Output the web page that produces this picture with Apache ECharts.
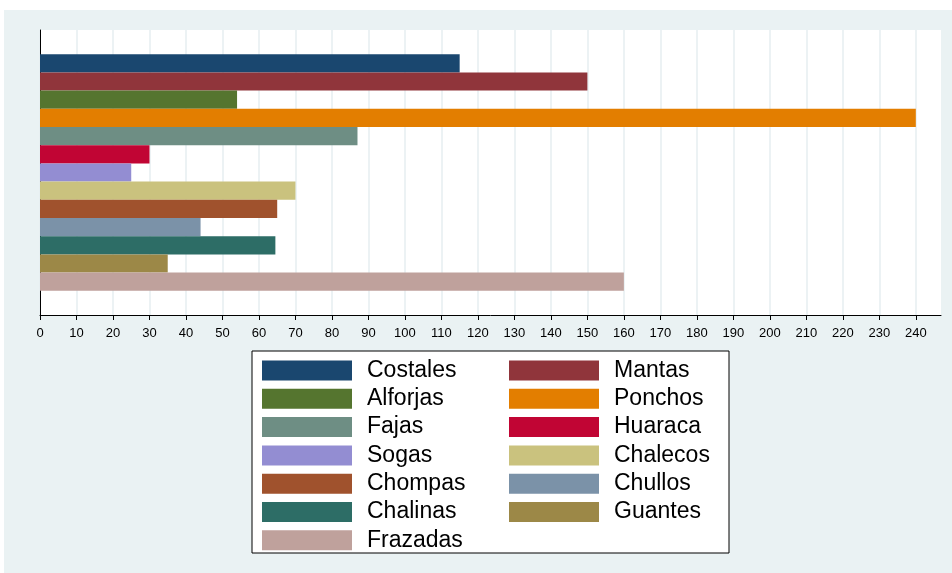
<!DOCTYPE html>
<html>
<head>
<meta charset="utf-8">
<script src="https://cdn.jsdelivr.net/npm/echarts@6/dist/echarts.min.js"></script>
<style>
html,body{margin:0;padding:0;background:#ffffff;}
#chart{width:952px;height:573px;}
</style>
</head>
<body>
<div id="chart"></div>
<script>
const names = ['Costales','Mantas','Alforjas','Ponchos','Fajas','Huaraca','Sogas','Chalecos','Chompas','Chullos','Chalinas','Guantes','Frazadas'];
const values = [115, 150, 54, 240, 87, 30, 25, 70, 65, 44, 64.5, 35, 160];
const colors = ['#1a476f','#90353b','#55752f','#e37e00','#6e8e84','#c10534','#938dd2','#cac27e','#a0522d','#7b92a8','#2d6d66','#9c8847','#bfa19c'];
const xTicks = [0,10,20,30,40,50,60,70,80,90,100,110,120,130,140,150,160,170,180,190,200,210,220,230,240];
const leftColumn = ['Costales','Alforjas','Fajas','Sogas','Chompas','Chalinas','Frazadas'];
const rightColumn = ['Mantas','Ponchos','Huaraca','Chalecos','Chullos','Guantes'];

const chart = echarts.init(document.getElementById('chart'), null, {renderer:'canvas'});
const font = 'Liberation Sans, Arial, sans-serif';

const legendCommon = {
  orient: 'vertical',
  itemWidth: 90,
  itemHeight: 20,
  itemGap: 5.3,
  icon: 'rect',
  selectedMode: false,
  padding: 0,
  textStyle: {fontFamily: font, fontSize: 23, lineHeight: 20, color: '#000', padding: [0,0,0,10]}
};

chart.setOption({
  backgroundColor: '#ffffff',
  animation: false,
  color: colors,
  graphic: [
    {type:'rect', z:-10, shape:{x:4, y:10, width:948, height:563}, style:{fill:'#eaf2f3'}},
    {type:'rect', z:3, shape:{x:252, y:351, width:477, height:202}, style:{fill:'#ffffff', stroke:'#000000', lineWidth:1}}
  ],
  grid: {left:40, top:30, width:901, height:285, show:true, backgroundColor:'#ffffff', borderWidth:0},
  xAxis: {
    type:'value', min:0, max:246.9, interval:10,
    axisLine:{show:true, lineStyle:{color:'#000', width:1}},
    axisTick:{show:true, length:5, lineStyle:{color:'#000'}, customValues: xTicks},
    axisLabel:{color:'#000', fontFamily:font, fontSize:13, margin:12, customValues: xTicks},
    splitLine:{show:true, lineStyle:{color:'#e6eef0', width:1.5}}
  },
  yAxis: {
    type:'category', data:[''], inverse:true,
    axisLine:{show:true, lineStyle:{color:'#000', width:1}},
    axisTick:{show:false}, axisLabel:{show:false}, splitLine:{show:false}
  },
  legend: [
    Object.assign({}, legendCommon, {left:262, top:359, data: leftColumn}),
    Object.assign({}, legendCommon, {left:509, top:359, data: rightColumn})
  ],
  series: names.map((n,i) => ({
    name: n, type:'bar', data:[values[i]],
    barGap:'0%', barCategoryGap:'17%',
    itemStyle:{color: colors[i]}
  }))
});
</script>
</body>
</html>
